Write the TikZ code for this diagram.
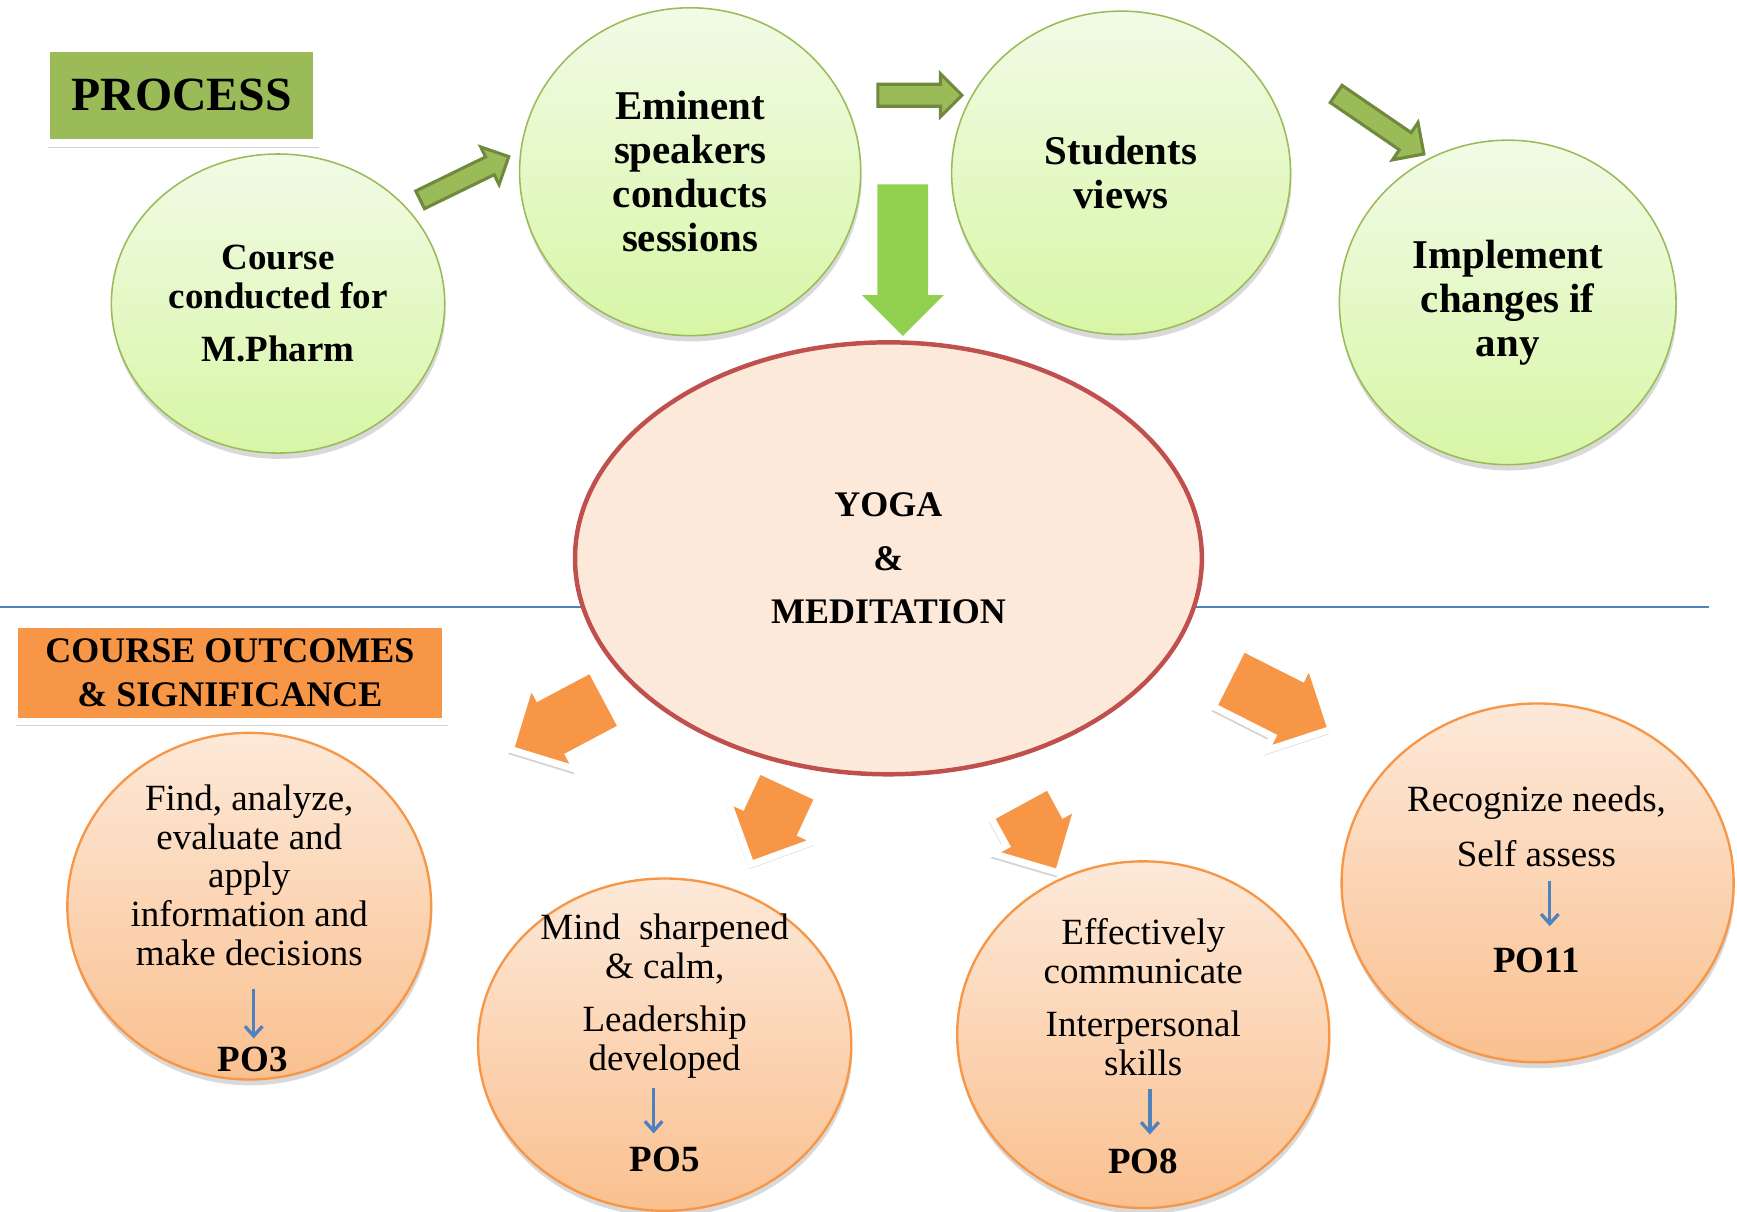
\documentclass[tikz,border=0pt]{standalone}
\usepackage{fontspec}
\setmainfont{Liberation Serif}
\usetikzlibrary{
    arrows.meta,
    shapes.geometric,
    shapes.arrows,
    shadows,
    backgrounds
}
\definecolor{procgreen}{HTML}{9BBB59}
\definecolor{procdark}{HTML}{71893F}
\definecolor{biggreen}{HTML}{92D050}
\definecolor{balltop}{HTML}{F1FBE6}
\definecolor{ballbot}{HTML}{D8F6A6}
\definecolor{outorange}{HTML}{F79646}
\definecolor{outtop}{HTML}{FDE9D9}
\definecolor{outbot}{HTML}{FAC08F}
\definecolor{yogafill}{HTML}{FDE9DA}
\definecolor{yogared}{HTML}{C0504D}
\definecolor{lineblue}{HTML}{4F81BD}

\tikzstyle{titlebox} = [draw=white, line width=4pt, inner sep=0pt, drop shadow={shadow xshift=1pt, shadow yshift=-2.5pt, opacity=0.35}]
\tikzstyle{greenball} = [ellipse, draw=procgreen, thick, top color=balltop, bottom color=ballbot, align=center, inner sep=0pt, font=\bfseries\fontsize{21}{22.7}\selectfont, drop shadow={shadow xshift=0.5pt, shadow yshift=-3pt, opacity=0.3}]
\tikzstyle{orangeball} = [ellipse, draw=outorange, line width=1.2pt, top color=outtop, bottom color=outbot, inner sep=0pt, drop shadow={shadow xshift=0.5pt, shadow yshift=-3pt, opacity=0.3}]
\tikzstyle{outtext} = [align=center, inner sep=0pt, font=\fontsize{19}{19.9}\selectfont]
\tikzstyle{polabel} = [inner sep=4pt, font=\bfseries\fontsize{19}{19.9}\selectfont]
\tikzstyle{poarrow} = [draw=lineblue, line width=1.7pt, -{Straight Barb[length=5pt, width=9pt]}]
\tikzstyle{greenarr} = [single arrow, anchor=tail, fill=procgreen, draw=procdark, line width=1.6pt, inner sep=0pt]
\tikzstyle{orangearr} = [single arrow, anchor=tail, fill=outorange, draw=white, line width=3.5pt, inner sep=0pt, inner ysep=0.53cm, single arrow head extend=0.29cm, drop shadow={shadow xshift=-1pt, shadow yshift=-2.5pt, opacity=0.35}]
\tikzstyle{sepline} = [draw=lineblue, line width=0.9pt]

\begin{document}
\begin{tikzpicture}[x=0.02cm, y=-0.02cm]
    \useasboundingbox (0,0) rectangle (1568,1094);

    \node[titlebox, fill=procgreen, minimum width=4.9cm, minimum height=1.72cm, font=\bfseries\fontsize{24.5}{27}\selectfont] (Process) at (164,86) {PROCESS};

    \node[greenball, font=\bfseries\fontsize{19}{19.9}\selectfont, minimum width=6.02cm, minimum height=5.4cm] (Course) at (251,274) {Course\\conducted for\\[7.4pt]M.Pharm};
    \node[greenball, minimum width=6.16cm, minimum height=5.92cm] (Speak) at (623,155) {Eminent\\speakers\\conducts\\sessions};
    \node[greenball, minimum width=6.12cm, minimum height=5.84cm] (Views) at (1012,156) {Students\\views};
    \node[greenball, minimum width=6.08cm, minimum height=5.86cm] (Impl) at (1361,273) {Implement\\changes if\\any};

    \node[greenarr, inner ysep=0.15cm, single arrow head extend=0.2cm, minimum height=1.78cm, rotate=26] (Go1) at (378,181) {};
    \node[greenarr, inner ysep=0.17cm, single arrow head extend=0.19cm, minimum height=1.52cm] (Go2) at (791,86) {};
    \node[greenarr, inner ysep=0.16cm, single arrow head extend=0.22cm, minimum height=1.92cm, rotate=-34.4] (Go3) at (1205,84) {};
    \node[greenarr, draw=none, fill=biggreen, inner ysep=0.43cm, single arrow head extend=0.28cm, minimum height=2.74cm, rotate=-90] (Down) at (815,165) {};

    \node[ellipse, draw=yogared, line width=2.3pt, fill=yogafill, minimum width=11.32cm, minimum height=7.8cm, align=center, font=\bfseries\fontsize{18.5}{27.3}\selectfont] (Yoga) at (802,504) {YOGA\\\&\\MEDITATION};

    \node[titlebox, fill=outorange, minimum width=7.81cm, minimum height=1.75cm, align=center, font=\bfseries\fontsize{18.5}{22.7}\selectfont] (Outcome) at (207.5,607.5) {COURSE OUTCOMES\\\& SIGNIFICANCE};

    \foreach \n / \x / \y / \ang / \len in {1/550/629/208/1.96cm, 2/713/705/245/1.6cm, 3/919/721/298.6/1.46cm, 4/1106/610/333.2/2.08cm}{
    \node[orangearr, minimum height=\len, rotate=\ang] (Push\n) at (\x,\y) {};
    }

    \node[orangeball, minimum width=6.57cm, minimum height=6.26cm] (Out3) at (225,818) {};
    \node[orangeball, minimum width=6.74cm, minimum height=6.0cm] (Out5) at (600,943) {};
    \node[orangeball, minimum width=6.72cm, minimum height=6.26cm] (Out8) at (1032,934) {};
    \node[orangeball, minimum width=7.08cm, minimum height=6.48cm] (Out11) at (1388,797) {};

    \node[outtext] (Out3txt) at (225,790) {Find, analyze,\\evaluate and\\apply\\information and\\make decisions};
    \node[outtext] (Out5txt) at (600,899) {Mind~~sharpened\\\& calm,\\[7.4pt]Leadership\\developed};
    \node[outtext] (Out8txt) at (1032,900) {Effectively\\communicate\\[7.4pt]Interpersonal\\skills};
    \node[outtext] (Out11txt) at (1387,746) {Recognize needs,\\[8pt]Self assess};

    \node[polabel] (PO3) at (228,956) {PO3};
    \node[polabel] (PO5) at (600,1047) {PO5};
    \node[polabel] (PO8) at (1032,1048) {PO8};
    \node[polabel] (PO11) at (1387,867) {PO11};

    \foreach \po / \x / \y / \cut in {PO3/229/893/0pt, PO5/590/982/3pt, PO8/1038/983/3pt, PO11/1399/795/7pt}{
    \coordinate (\po top) at (\x,\y);
    \draw[poarrow, shorten >=\cut] (\po top) -- (\po top |- \po.north);
    }

    \begin{pgfonlayer}{background}
        \draw[sepline] (0,548) -- (1543,548);
    \end{pgfonlayer}
\end{tikzpicture}
\end{document}
